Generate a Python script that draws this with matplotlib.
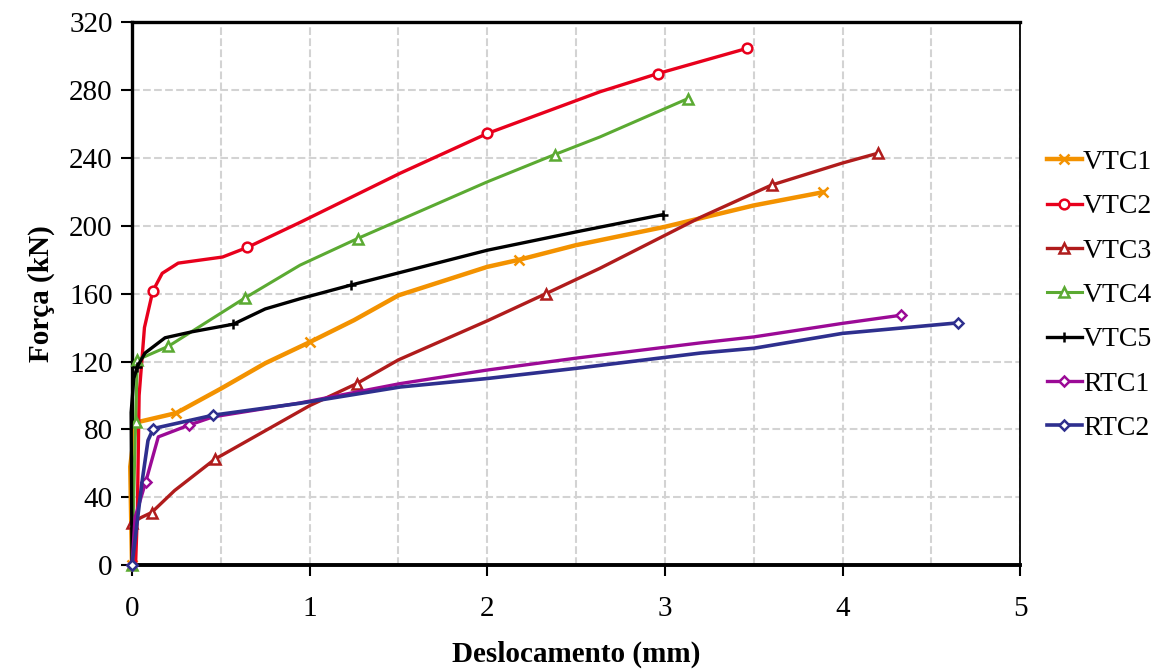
import matplotlib.pyplot as plt
from matplotlib.ticker import MultipleLocator

plt.rcParams['font.family'] = ['Liberation Serif', 'DejaVu Serif']

# displacement (mm) / force (kN); mk = indices that carry a marker
vtc1_x = [0.0, -0.01, 0.02, 0.248, 0.5, 0.75, 1.0, 1.25, 1.5, 2.0, 2.18, 2.5, 3.0, 3.5, 3.89]
vtc1_y = [0.0, 58, 84, 89.6, 104, 119, 131.4, 144.4, 159, 175.8, 180, 188.6, 199.4, 212, 219.8]
vtc1_mk = [0, 3, 6, 10, 14]

vtc2_x = [0.02, 0.03, 0.04, 0.07, 0.117, 0.17, 0.26, 0.51, 0.65, 0.946, 1.51, 2.0, 2.635, 2.96, 3.46]
vtc2_y = [0.0, 30, 100, 140, 161.5, 172, 178, 181.6, 187.3, 202, 231, 254.4, 279, 289.7, 304.5]
vtc2_mk = [4, 8, 11, 13, 14]

vtc3_x = [0.0, 0.05, 0.11, 0.24, 0.467, 1.0, 1.265, 1.5, 2.0, 2.33, 2.635, 3.2, 3.6, 4.0, 4.2]
vtc3_y = [25, 28, 31, 44, 62.5, 94, 107, 121, 144, 160, 175, 205, 224, 237, 242.8]
vtc3_mk = [0, 2, 4, 6, 9, 12, 14]

vtc4_x = [0.0, 0.02, 0.03, 0.205, 0.636, 0.946, 1.27, 2.0, 2.38, 2.635, 3.13]
vtc4_y = [0.0, 84.5, 121, 129, 157.5, 176.8, 192.5, 225.9, 242, 252.4, 275]
vtc4_mk = [0, 1, 2, 3, 4, 6, 8, 10]

vtc5_x = [0.0, -0.005, 0.01, 0.03, 0.073, 0.186, 0.336, 0.57, 0.75, 0.946, 1.23, 2.0, 2.5, 2.99]
vtc5_y = [0.0, 90, 110, 117, 125, 134, 137.5, 142, 151, 157, 165, 185.6, 196.4, 206.6]
vtc5_mk = [3, 7, 10, 13]

rtc1_x = [0.0, 0.017, 0.077, 0.148, 0.32, 0.456, 0.946, 1.51, 2.0, 2.5, 3.2, 3.5, 4.0, 4.33]
rtc1_y = [0.0, 28, 49, 75.6, 82.5, 87.4, 95.6, 107, 115, 122, 131, 134.5, 142.5, 147.3]
rtc1_mk = [0, 2, 4, 13]

rtc2_x = [0.0, 0.055, 0.09, 0.12, 0.458, 0.946, 1.51, 2.0, 2.5, 3.2, 3.5, 4.0, 4.65]
rtc2_y = [0.0, 48, 73.5, 80.5, 88.4, 95.4, 105, 110, 116, 125, 127.8, 136.6, 142.8]
rtc2_mk = [0, 3, 4, 12]

series = [
    ('VTC1', vtc1_x, vtc1_y, vtc1_mk, '#F39200', 'x', 3.2),
    ('VTC2', vtc2_x, vtc2_y, vtc2_mk, '#E8001C', 'o', 2.4),
    ('VTC3', vtc3_x, vtc3_y, vtc3_mk, '#B01C1C', '^', 2.4),
    ('VTC4', vtc4_x, vtc4_y, vtc4_mk, '#5BAA32', '^', 2.2),
    ('VTC5', vtc5_x, vtc5_y, vtc5_mk, '#000000', '+', 2.4),
    ('RTC1', rtc1_x, rtc1_y, rtc1_mk, '#9B0A96', 'D', 2.4),
    ('RTC2', rtc2_x, rtc2_y, rtc2_mk, '#2E2F8E', 'D', 2.6),
]

fig = plt.figure(figsize=(11.58, 6.72), dpi=100)
ax = fig.add_axes([0.114, 0.159, 0.767, 0.808])

for name, xs, ys, mk, col, m, lw in series:
    ms = 5 if m == 'D' else 7
    ax.plot(xs, ys, color=col, lw=lw, marker=m, markevery=mk, ms=ms,
            mfc='white' if m not in ('x', '+') else col, mec=col, mew=1.8,
            label=name, clip_on=False, zorder=3)

ax.set_xlim(0, 5)
ax.set_ylim(0, 320)
ax.xaxis.set_major_locator(MultipleLocator(1))
ax.xaxis.set_minor_locator(MultipleLocator(0.5))
ax.yaxis.set_major_locator(MultipleLocator(40))
ax.grid(True, which='both', color='#D3D3D3', ls='--', lw=1.5, zorder=0)
ax.set_axisbelow(True)
ax.tick_params(axis='both', which='major', direction='out', length=8, width=1.5,
               labelsize=21, pad=6)
ax.tick_params(axis='x', which='minor', length=0)
ax.tick_params(axis='x', which='major', pad=14)

for side, w in [('left', 2.4), ('top', 2.4), ('bottom', 2.8), ('right', 1.3)]:
    ax.spines[side].set_linewidth(w)

ax.set_xlabel('Deslocamento (mm)', fontsize=21, fontweight='bold', labelpad=14)
ax.set_ylabel('Força (kN)', fontsize=21, fontweight='bold', labelpad=10)

ax.legend(loc='center left', bbox_to_anchor=(1.03, 0.497), frameon=False,
          borderaxespad=0, borderpad=0, fontsize=20, handlelength=1.25,
          handletextpad=0.05, labelspacing=0.68)

fig.savefig('out.png', dpi=100)
